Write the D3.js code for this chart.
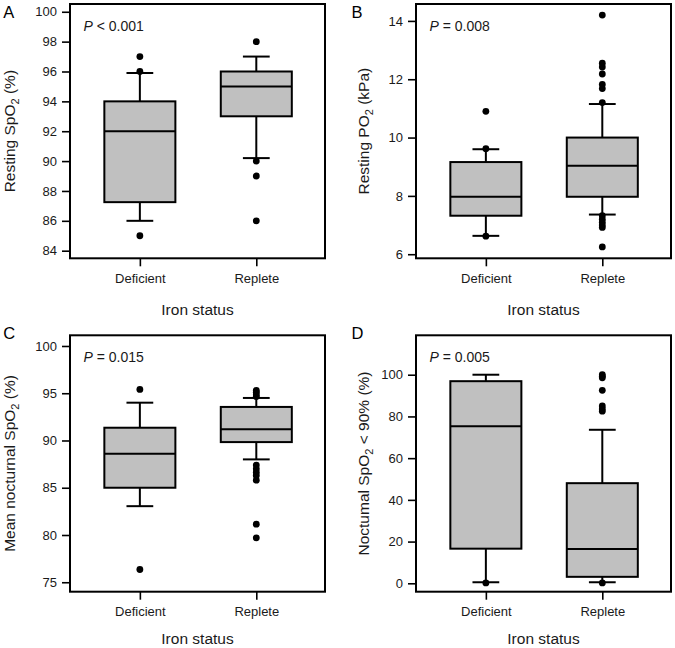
<!DOCTYPE html>
<html>
<head>
<meta charset="utf-8">
<script src="https://cdn.jsdelivr.net/npm/d3@7"></script>
<style>
  html, body { margin: 0; padding: 0; background: #fff; }
  svg { display: block; font-family: "Liberation Sans", Arial, Helvetica, sans-serif; }
</style>
</head>
<body>
<svg id="chart" width="675" height="648"></svg>
<script>
// ---------- data ----------
const categories = ["Deficient", "Replete"];
const xTitle = "Iron status";
const panelLetters = ["A", "B", "C", "D"];

// [lower whisker, Q1, median, Q3, upper whisker] per category
const statsA = [[86, 87.25, 92, 94, 95.9], [90.2, 93, 95, 96, 97]];
const statsB = [[6.63, 7.32, 7.97, 9.16, 9.6], [7.36, 7.97, 9.03, 10.0, 11.15]];
const statsC = [[83.05, 85.0, 88.6, 91.35, 94.0], [88.0, 89.83, 91.18, 93.55, 94.5]];
const statsD = [[0.5, 16.6, 75.3, 96.9, 100], [0.5, 3.1, 16.5, 48.0, 73.6]];

const outliersA = [[97, 96, 85], [98, 90, 89, 86]];
const outliersB = [[10.9, 9.62, 6.62], [14.2, 12.55, 12.42, 12.18, 11.82, 11.68, 11.2, 7.32, 7.2, 7.1, 7.0, 6.92, 6.25]];
const outliersC = [[95.4, 76.35], [95.3, 95.1, 94.85, 94.65, 87.4, 87.0, 86.65, 86.3, 85.8, 81.15, 79.7]];
const outliersD = [[0.2], [100, 99.3, 98.5, 92.5, 85, 83.6, 82.5, 0.2]];

const yTicksA = [84, 86, 88, 90, 92, 94, 96, 98, 100];
const yTicksB = [6, 8, 10, 12, 14];
const yTicksC = [75, 80, 85, 90, 95, 100];
const yTicksD = [0, 20, 40, 60, 80, 100];

const yDomainA = [83.49, 100.52];
const yDomainB = [5.86, 14.58];
const yDomainC = [74.0, 101.13];
const yDomainD = [-4.03, 118.9];

const yTitlesA = ["Resting SpO", "2", " (%)"];
const yTitlesB = ["Resting PO", "2", " (kPa)"];
const yTitlesC = ["Mean nocturnal SpO", "2", " (%)"];
const yTitlesD = ["Noctumal SpO", "2", " < 90% (%)"];

const pTextA = " < 0.001";
const pTextB = " = 0.008";
const pTextC = " = 0.015";
const pTextD = " = 0.005";

// ---------- layout ----------
const layouts = [
  { x0: 70,  x1: 325, y0: 4,     y1: 258.3, titleX: 15,  labelX: 3.3,   labelY: 18.3, xLabelY: 315 },
  { x0: 416, x1: 671, y0: 4,     y1: 258.3, titleX: 369, labelX: 351.5, labelY: 17.5, xLabelY: 315 },
  { x0: 70,  x1: 325, y0: 335.3, y1: 591.7, titleX: 15,  labelX: 3.3,   labelY: 338.5, xLabelY: 644 },
  { x0: 416, x1: 671, y0: 335.3, y1: 591.7, titleX: 369, labelX: 351.5, labelY: 339,  xLabelY: 644 }
];

const panels = [
  { stats: statsA, out: outliersA, ticks: yTicksA, dom: yDomainA, title: yTitlesA, p: pTextA },
  { stats: statsB, out: outliersB, ticks: yTicksB, dom: yDomainB, title: yTitlesB, p: pTextB },
  { stats: statsC, out: outliersC, ticks: yTicksC, dom: yDomainC, title: yTitlesC, p: pTextC },
  { stats: statsD, out: outliersD, ticks: yTicksD, dom: yDomainD, title: yTitlesD, p: pTextD }
];

const svg = d3.select("#chart");
const boxW = 0.61;
const capW = 0.2;
const lw = 2;

panels.forEach((pn, i) => {
  const L = layouts[i];
  const x = d3.scaleLinear().domain([0.4, 2.59]).range([L.x0, L.x1]);
  const y = d3.scaleLinear().domain(pn.dom).range([L.y1, L.y0]);
  const g = svg.append("g");

  // y axis
  const ya = g.append("g")
    .attr("transform", `translate(${L.x0},0)`)
    .call(d3.axisLeft(y).tickValues(pn.ticks).tickSize(8).tickPadding(5).tickFormat(d3.format("d")));
  ya.select(".domain").remove();
  ya.selectAll(".tick line").attr("stroke", "#000").attr("stroke-width", 1.6);
  ya.selectAll(".tick text").attr("font-size", 13).attr("fill", "#1a1a1a")
    .attr("font-family", "Liberation Sans, Arial, sans-serif");

  // x axis
  const xa = g.append("g")
    .attr("transform", `translate(0,${L.y1})`)
    .call(d3.axisBottom(x).tickValues([1, 2]).tickSize(8).tickPadding(7).tickFormat(d => categories[d - 1]));
  xa.select(".domain").remove();
  xa.selectAll(".tick line").attr("stroke", "#000").attr("stroke-width", 1.6);
  xa.selectAll(".tick text").attr("font-size", 13).attr("fill", "#1a1a1a")
    .attr("font-family", "Liberation Sans, Arial, sans-serif");

  // boxes
  pn.stats.forEach((s, k) => {
    const c = k + 1;
    const bg = g.append("g");
    // whiskers
    bg.append("line").attr("x1", x(c)).attr("x2", x(c)).attr("y1", y(s[0])).attr("y2", y(s[1]))
      .attr("stroke", "#000").attr("stroke-width", lw);
    bg.append("line").attr("x1", x(c)).attr("x2", x(c)).attr("y1", y(s[3])).attr("y2", y(s[4]))
      .attr("stroke", "#000").attr("stroke-width", lw);
    // caps
    [s[0], s[4]].forEach(v => {
      bg.append("line").attr("x1", x(c - capW / 2 * 1.15)).attr("x2", x(c + capW / 2 * 1.15))
        .attr("y1", y(v)).attr("y2", y(v)).attr("stroke", "#000").attr("stroke-width", lw);
    });
    // box
    bg.append("rect").attr("x", x(c - boxW / 2)).attr("width", x(c + boxW / 2) - x(c - boxW / 2))
      .attr("y", y(s[3])).attr("height", y(s[1]) - y(s[3]))
      .attr("fill", "#c0c0c0").attr("stroke", "#000").attr("stroke-width", lw);
    // median
    bg.append("line").attr("x1", x(c - boxW / 2)).attr("x2", x(c + boxW / 2))
      .attr("y1", y(s[2])).attr("y2", y(s[2])).attr("stroke", "#000").attr("stroke-width", lw);
    // outliers
    bg.selectAll("circle").data(pn.out[k]).join("circle")
      .attr("cx", x(c)).attr("cy", d => y(d)).attr("r", 3.4).attr("fill", "#000");
  });

  // frame
  g.append("rect").attr("x", L.x0).attr("y", L.y0).attr("width", L.x1 - L.x0).attr("height", L.y1 - L.y0)
    .attr("fill", "none").attr("stroke", "#000").attr("stroke-width", 2);

  // P value text
  const pt = g.append("text").attr("x", L.x0 + 13.5).attr("y", L.y0 + 26.5)
    .attr("font-size", 14).attr("fill", "#1a1a1a");
  pt.append("tspan").attr("font-style", "italic").text("P");
  pt.append("tspan").text(pn.p);

  // y title
  const yt = g.append("text")
    .attr("transform", `translate(${L.titleX},${(L.y0 + L.y1) / 2}) rotate(-90)`)
    .attr("text-anchor", "middle").attr("font-size", 15.5).attr("fill", "#1a1a1a");
  yt.append("tspan").text(pn.title[0]);
  yt.append("tspan").attr("font-size", 11).attr("dy", 4).text(pn.title[1]);
  yt.append("tspan").attr("dy", -4).text(pn.title[2]);

  // x title
  g.append("text").attr("x", (L.x0 + L.x1) / 2).attr("y", L.xLabelY)
    .attr("text-anchor", "middle").attr("font-size", 15.5).attr("fill", "#1a1a1a").text(xTitle);

  // panel letter
  g.append("text").attr("x", L.labelX).attr("y", L.labelY)
    .attr("font-size", 16.5).attr("fill", "#000").text(panelLetters[i]);
});
</script>
</body>
</html>
